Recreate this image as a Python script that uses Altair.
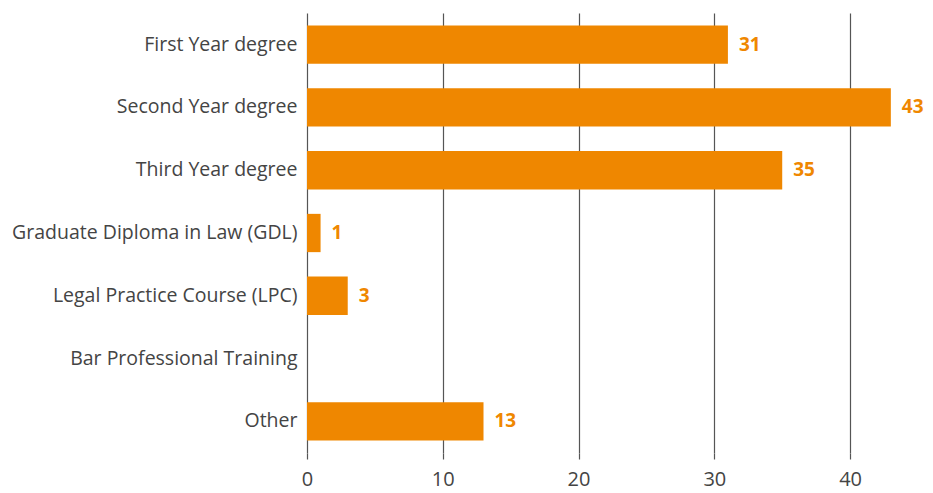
import altair as alt
import pandas as pd

categories = [
    "First Year degree",
    "Second Year degree",
    "Third Year degree",
    "Graduate Diploma in Law (GDL)",
    "Legal Practice Course (LPC)",
    "Bar Professional Training",
    "Other",
]
values = [31, 43, 35, 1, 3, 0, 13]
value_labels = ["31", "43", "35", "1", "3", "", "13"]
x_ticks = [0, 10, 20, 30, 40]

df = pd.DataFrame({"category": categories, "value": values, "label": value_labels})

ORANGE = "#EF8700"
FONT = "Open Sans"

y_enc = alt.Y(
    "category:N",
    sort=categories,
    title=None,
    scale=alt.Scale(paddingInner=0.39, paddingOuter=0.2),
    axis=alt.Axis(
        ticks=False,
        domain=False,
        grid=False,
        labelPadding=10,
        labelFontSize=19.5,
        labelColor="#444444",
        labelFont=FONT,
        labelLimit=400,
    ),
)

x_enc = alt.X(
    "value:Q",
    title=None,
    scale=alt.Scale(domain=[0, 45], nice=False),
    axis=alt.Axis(
        values=x_ticks,
        grid=True,
        gridColor="#555555",
        gridWidth=1.2,
        domain=False,
        ticks=True,
        tickSize=6,
        tickColor="#555555",
        tickWidth=1.2,
        labelFontSize=20,
        labelColor="#444444",
        labelFont=FONT,
        labelPadding=10,
        labelFlush=False,
    ),
)

bars = alt.Chart(df).mark_bar(color=ORANGE).encode(x=x_enc, y=y_enc)

labels = alt.Chart(df).mark_text(
    align="left", baseline="middle", dx=11, fontWeight="bold",
    fontSize=19, font=FONT, color=ORANGE,
).encode(x="value:Q", y=alt.Y("category:N", sort=categories), text="label:N")

chart = (
    alt.layer(bars, labels)
    .properties(
        width=611,
        height=440,
        autosize=alt.AutoSizeParams(type="none"),
        padding={"left": 307, "top": 13, "right": 15, "bottom": 40},
        view=alt.ViewBackground(stroke="transparent", strokeWidth=0),
    )
    .configure_view(stroke="transparent", strokeWidth=0)
    .configure_axis(domain=False)
    .configure(background="white")
)

chart.save("out.html", embed_options={"renderer": "svg", "actions": False})
